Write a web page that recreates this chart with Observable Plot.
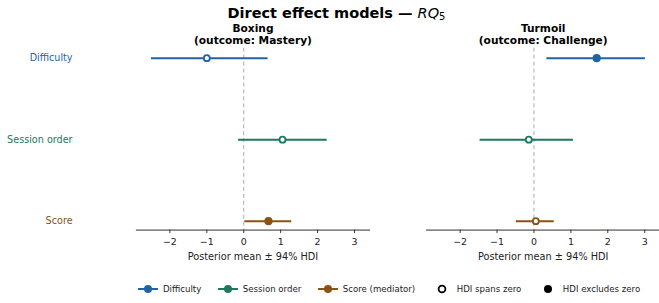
<!DOCTYPE html>
<html>
<head>
<meta charset="utf-8">
<script src="https://cdn.jsdelivr.net/npm/d3@7"></script>
<script src="https://cdn.jsdelivr.net/npm/@observablehq/plot@0.6"></script>
<style>
  html, body { margin: 0; padding: 0; background: #fff; overflow: hidden; }
  #wrap { position: relative; width: 659px; height: 303px; overflow: hidden; font-family: "DejaVu Sans", sans-serif; }
  #chart { position: absolute; left: 0; top: 0; }
  #title { position: absolute; left: 7px; width: 659px; top: 5px; text-align: center; font-size: 14.5px; font-weight: bold; color: #000; white-space: nowrap; }
  #title i { font-weight: normal; }
  #title sub { font-weight: normal; font-size: 10px; vertical-align: -2px; }
  #legend { position: absolute; left: 138px; top: 284px; display: flex; align-items: center; font-size: 8.6px; color: #222; white-space: nowrap; }
  .item { display: flex; align-items: center; margin-right: 16.5px; }
  .item svg { margin-right: 5px; }
</style>
</head>
<body>
<div id="wrap">
  <div id="chart"></div>
  <div id="title">Direct effect models — <i>RQ</i><sub>5</sub></div>
  <div id="legend"></div>
</div>
<script>
// ---- data ----
const models = ["Boxing", "Turmoil"];
const modelTitles = ["Boxing\n(outcome: Mastery)", "Turmoil\n(outcome: Challenge)"];
const terms = ["Difficulty", "Session order", "Score"];
const legendLabels = ["Difficulty", "Session order", "Score (mediator)"];
const termColors = ["#1f63a8", "#1b7a5c", "#8c520f"];
// posterior means and 94% HDI bounds, per model, in the order of terms
const boxingMean = [-1.00, 1.05, 0.67];
const boxingLo   = [-2.50, -0.14, 0.03];
const boxingHi   = [0.66, 2.26, 1.30];
const turmoilMean = [1.70, -0.14, 0.05];
const turmoilLo   = [0.35, -1.46, -0.48];
const turmoilHi   = [3.02, 1.07, 0.55];
const xTicks = [-2, -1, 0, 1, 2, 3];
const xLabel = "Posterior mean ± 94% HDI";

// ---- build table ----
const colorOf = Object.fromEntries(terms.map((t, i) => [t, termColors[i]]));
const rows = [];
terms.forEach((t, i) => {
  rows.push({model: "Boxing", term: t, mean: boxingMean[i], lo: boxingLo[i], hi: boxingHi[i]});
  rows.push({model: "Turmoil", term: t, mean: turmoilMean[i], lo: turmoilLo[i], hi: turmoilHi[i]});
});
const excludes = d => d.lo > 0 || d.hi < 0;
const titleOf = Object.fromEntries(models.map((m, i) => [m, modelTitles[i]]));
const fmt = d => d < 0 ? "\u2212" + Math.abs(d) : String(d);

const chart = Plot.plot({
  width: 663,
  height: 272,
  marginLeft: 137,
  marginRight: 0,
  marginTop: 48,
  marginBottom: 41,
  style: {fontFamily: "DejaVu Sans, sans-serif", fontSize: "9.5px", color: "#222", background: "white"},
  fx: {domain: models, paddingInner: 0.199, paddingOuter: 0, axis: null},
  x: {domain: [-2.9, 3.4], ticks: xTicks},
  y: {domain: terms, padding: 0.109, axis: null},
  marks: [
    Plot.ruleX([0], {stroke: "#aaa", strokeDasharray: "4,3", strokeWidth: 1}),
    Plot.frame({anchor: "bottom", stroke: "#888", strokeWidth: 1.6}),
    Plot.axisX({ticks: xTicks, tickFormat: fmt, tickSize: 3.5, tickPadding: 4.5, stroke: "#333",
                label: null, fontSize: 9.5}),
    Plot.text(models, {fx: d => d, text: () => xLabel, frameAnchor: "bottom", dy: 26.5,
                       lineAnchor: "middle", fontSize: 9.8, fill: "#222"}),
    Plot.ruleY(rows, {fx: "model", y: "term", x1: "lo", x2: "hi", stroke: d => colorOf[d.term], strokeWidth: 2}),
    Plot.dot(rows, {fx: "model", x: "mean", y: "term", r: d => excludes(d) ? 4.8 : 4.2,
                    stroke: d => colorOf[d.term], strokeWidth: 1.8,
                    fill: d => excludes(d) ? colorOf[d.term] : "white"}),
    Plot.text(terms, {fx: () => "Boxing", y: d => d, text: d => d, frameAnchor: "left", dx: -64.5,
                      textAnchor: "end", fill: d => colorOf[d], fontSize: 9.7}),
    Plot.text(models, {fx: d => d, text: d => titleOf[d], frameAnchor: "top", lineAnchor: "bottom",
                       dy: -4, lineHeight: 1.13, fontWeight: "bold", fontSize: 10.7, fill: "#000"})
  ]
});
document.getElementById("chart").appendChild(chart);

// ---- legend ----
const legend = document.getElementById("legend");
function addItem(svgInner, label) {
  const item = document.createElement("div");
  item.className = "item";
  item.innerHTML = `<svg width="20" height="10" viewBox="0 0 20 10">${svgInner}</svg><span>${label}</span>`;
  legend.appendChild(item);
}
terms.forEach((t, i) => {
  const c = termColors[i];
  addItem(`<line x1="0" x2="20" y1="5" y2="5" stroke="${c}" stroke-width="2"/><circle cx="10" cy="5" r="4" fill="${c}"/>`, legendLabels[i]);
});
addItem(`<circle cx="10" cy="5" r="3.4" fill="white" stroke="#000" stroke-width="1.8"/>`, "HDI spans zero");
addItem(`<circle cx="10" cy="5" r="4" fill="#000"/>`, "HDI excludes zero");
</script>
</body>
</html>
